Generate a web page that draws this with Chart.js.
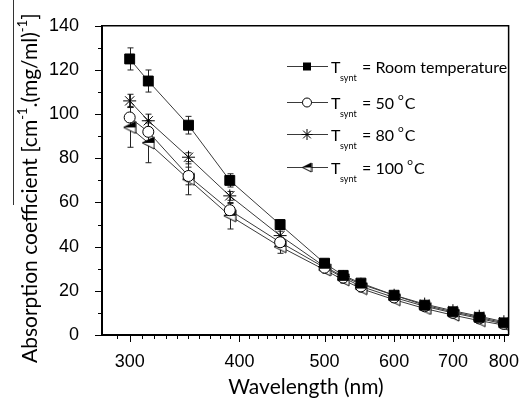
<!DOCTYPE html>
<html>
<head>
<meta charset="utf-8">
<script src="https://cdn.jsdelivr.net/npm/chart.js@4"></script>
<style>
    html, body { margin: 0; padding: 0; background: #fff; }
    canvas { display: block; }
</style>
</head>
<body>
<canvas id="chart" width="527" height="401"></canvas>
<script>
// Data
const wavelength = [300, 315, 350, 390, 445, 500, 525, 550, 600, 650, 700, 750, 800];

const roomTemp    = [125, 115, 95, 70, 50, 32.5, 27, 23.5, 18, 13.5, 10.5, 8, 5.5];
const roomTempErr = [5, 5, 4, 3, 2, 1, 1, 1, 1, 1, 1, 1, 1];

const t50    = [98.5, 92, 72, 56.5, 42, 30.5, 26, 22, 17, 13, 10, 7.5, 5];
const t50Err = [5, 5, 4, 3, 2, 1, 1, 1, 1, 1, 1, 1, 1];

const t80    = [106, 97, 80.5, 63, 45, 31, 26.5, 23, 18, 14, 11, 8.5, 6];
const t80Err = [3, 3, 2, 2, 2, 1, 1, 1, 1, 1, 1, 1, 1];

const t100    = [94, 87, 70.5, 54, 40, 29.5, 25, 21, 16, 12, 9, 6.5, 4.5];
const t100Err = [9, 9, 7, 6, 3, 1.5, 1.5, 1.5, 1, 1, 1, 1, 1];

const xTickValues = [300, 400, 500, 600, 700, 800];
const yTickStep = 20;

const legendLabels = [
    { text: "= Room temperature" },
    { text: "= 50 ", deg: true },
    { text: "= 80 ", deg: true },
    { text: "= 100 ", deg: true },
];

const TICK_FONT = "'Liberation Sans', Arial, sans-serif";
const TITLE_FONT = "Lato, 'Open Sans', sans-serif";
const LINE_COLOR = "#3a3a3a";

// left-pointing triangle, upper half filled
function makeTriangle(size) {
    const c = document.createElement("canvas");
    c.width = size;
    c.height = size;
    const g = c.getContext("2d");
    const m = 1, mid = size / 2;
    g.lineWidth = 1;
    g.strokeStyle = "#000";
    g.fillStyle = "#fff";
    g.beginPath();
    g.moveTo(m, mid);
    g.lineTo(size - m, m);
    g.lineTo(size - m, size - m);
    g.closePath();
    g.fill();
    g.fillStyle = "#000";
    g.beginPath();
    g.moveTo(m, mid);
    g.lineTo(size - m, m);
    g.lineTo(size - m, mid);
    g.closePath();
    g.fill();
    g.beginPath();
    g.moveTo(m, mid);
    g.lineTo(size - m, m);
    g.lineTo(size - m, size - m);
    g.closePath();
    g.stroke();
    return c;
}

const triPlot = makeTriangle(14);
const triLegend = makeTriangle(11);

function toPoints(values) {
    return wavelength.map((w, i) => ({ x: w, y: values[i] }));
}

const errors = [roomTempErr, t50Err, t80Err, t100Err];

const errorBarPlugin = {
    id: "errorBars",
    beforeDatasetsDraw(chart) {
        const { ctx, scales } = chart;
        ctx.save();
        ctx.strokeStyle = "#222";
        ctx.lineWidth = 1;
        chart.data.datasets.forEach((ds, i) => {
            const err = errors[i];
            ds.data.forEach((p, j) => {
                const x = Math.round(scales.x.getPixelForValue(p.x)) + 0.5;
                const yT = scales.y.getPixelForValue(p.y + err[j]);
                const yB = scales.y.getPixelForValue(p.y - err[j]);
                ctx.beginPath();
                ctx.moveTo(x, yT);
                ctx.lineTo(x, yB);
                ctx.moveTo(x - 3, yT);
                ctx.lineTo(x + 3, yT);
                ctx.moveTo(x - 3, yB);
                ctx.lineTo(x + 3, yB);
                ctx.stroke();
            });
        });
        ctx.restore();
    },
};

function drawMarker(ctx, kind, x, y) {
    ctx.save();
    ctx.strokeStyle = "#000";
    ctx.lineWidth = 1;
    if (kind === 0) {
        ctx.fillStyle = "#000";
        ctx.fillRect(x - 4, y - 4, 8, 8);
    } else if (kind === 1) {
        ctx.fillStyle = "#fff";
        ctx.beginPath();
        ctx.arc(x, y, 4.5, 0, Math.PI * 2);
        ctx.fill();
        ctx.stroke();
    } else if (kind === 2) {
        ctx.beginPath();
        for (let k = 0; k < 4; k++) {
            const a = k * Math.PI / 4;
            ctx.moveTo(x - 5.5 * Math.cos(a), y - 5.5 * Math.sin(a));
            ctx.lineTo(x + 5.5 * Math.cos(a), y + 5.5 * Math.sin(a));
        }
        ctx.stroke();
    } else {
        ctx.drawImage(triLegend, x - triLegend.width / 2, y - triLegend.height / 2);
    }
    ctx.restore();
}

const decorPlugin = {
    id: "decor",
    afterDraw(chart) {
        const { ctx, chartArea: a, scales } = chart;
        ctx.save();

        // frame top / right
        ctx.strokeStyle = "#000";
        ctx.lineWidth = 1.5;
        ctx.beginPath();
        ctx.moveTo(a.left, a.top);
        ctx.lineTo(a.right, a.top);
        ctx.lineTo(a.right, a.bottom);
        ctx.stroke();

        // tick marks, major and minor
        ctx.lineWidth = 1;
        ctx.beginPath();
        for (let v = 290; v <= 810; v += 10) {
            const x = Math.round(scales.x.getPixelForValue(v)) + 0.5;
            if (x < a.left + 2 || x > a.right) continue;
            const len = xTickValues.includes(v) ? 6 : 3;
            ctx.moveTo(x, a.bottom + 1);
            ctx.lineTo(x, a.bottom + 1 + len);
        }
        for (let v = 0; v <= 140; v += 10) {
            const y = Math.round(scales.y.getPixelForValue(v)) + 0.5;
            const len = v % yTickStep === 0 ? 6 : 3;
            ctx.moveTo(a.left - 1, y);
            ctx.lineTo(a.left - 1 - len, y);
        }
        ctx.stroke();

        // x title
        ctx.fillStyle = "#000";
        ctx.font = "21px " + TITLE_FONT;
        ctx.textAlign = "center";
        ctx.textBaseline = "alphabetic";
        ctx.fillText("Wavelength (nm)", 306, 394);

        // y title with superscripts
        ctx.save();
        ctx.translate(37, 363);
        ctx.rotate(-Math.PI / 2);
        ctx.textAlign = "left";
        const parts = [
            ["Absorption coefficient [cm", false],
            ["-1", true],
            [".(mg/ml)", false],
            ["-1", true],
            ["]", false],
        ];
        let px = 0;
        for (const [t, sup] of parts) {
            ctx.font = (sup ? "13px " : "21px ") + TITLE_FONT;
            ctx.fillText(t, px, sup ? -10 : 0);
            px += ctx.measureText(t).width;
        }
        ctx.restore();

        // stray rule next to the y title
        ctx.strokeStyle = "#333";
        ctx.lineWidth = 1;
        ctx.beginPath();
        ctx.moveTo(13.5, 0);
        ctx.lineTo(13.5, 205);
        ctx.stroke();

        // legend
        const rows = [66, 102, 134, 167];
        legendLabels.forEach((lab, i) => {
            const y = rows[i];
            ctx.strokeStyle = LINE_COLOR;
            ctx.lineWidth = 1;
            ctx.beginPath();
            ctx.moveTo(287, y + 0.5);
            ctx.lineTo(328, y + 0.5);
            ctx.stroke();
            drawMarker(ctx, i, 307, y + 0.5);

            ctx.fillStyle = "#000";
            ctx.textAlign = "left";
            ctx.textBaseline = "alphabetic";
            const base = y + 7;
            ctx.font = "16px " + TITLE_FONT;
            ctx.fillText("T", 331, base);
            ctx.font = "9px " + TITLE_FONT;
            ctx.fillText("synt", 340, base + 8);
            ctx.font = "16px " + TITLE_FONT;
            ctx.fillText(lab.text, 362, base);
            if (lab.deg) {
                let tx = 362 + ctx.measureText(lab.text).width;
                ctx.font = "10px " + TITLE_FONT;
                ctx.fillText("o", tx, base - 9);
                tx += ctx.measureText("o").width + 1;
                ctx.font = "16px " + TITLE_FONT;
                ctx.fillText("C", tx, base);
            }
        });

        ctx.restore();
    },
};

const baseDataset = {
    borderColor: LINE_COLOR,
    borderWidth: 1,
    pointBorderColor: "#000",
    pointBorderWidth: 1,
    tension: 0,
};

new Chart(document.getElementById("chart").getContext("2d"), {
    type: "line",
    data: {
        datasets: [
            {
                ...baseDataset,
                label: "Tsynt = Room temperature",
                data: toPoints(roomTemp),
                pointStyle: "rect",
                pointRadius: 7,
                pointBackgroundColor: "#000",
            },
            {
                ...baseDataset,
                label: "Tsynt = 50 °C",
                data: toPoints(t50),
                pointStyle: "circle",
                pointRadius: 5.5,
                pointBackgroundColor: "#fff",
            },
            {
                ...baseDataset,
                label: "Tsynt = 80 °C",
                data: toPoints(t80),
                pointStyle: "star",
                pointRadius: 6.5,
                pointBackgroundColor: "#000",
            },
            {
                ...baseDataset,
                label: "Tsynt = 100 °C",
                data: toPoints(t100),
                pointStyle: triPlot,
                pointRadius: 7,
            },
        ],
    },
    options: {
        responsive: false,
        animation: false,
        devicePixelRatio: 1,
        layout: { padding: { top: 25, right: 9, left: 0, bottom: 0 } },
        plugins: {
            legend: { display: false },
            tooltip: { enabled: false },
        },
        scales: {
            x: {
                type: "logarithmic",
                min: 279,
                max: 810,
                afterBuildTicks: (s) => { s.ticks = xTickValues.map((v) => ({ value: v })); },
                afterFit: (s) => { s.height = 66; },
                ticks: {
                    callback: (v) => String(v),
                    autoSkip: false,
                    maxRotation: 0,
                    padding: 8,
                    color: "#000",
                    font: { family: TICK_FONT, size: 18 },
                },
                grid: { display: false },
                border: { display: true, color: "#000", width: 2 },
            },
            y: {
                min: 0,
                max: 140,
                afterFit: (s) => { s.width = 102; },
                ticks: {
                    stepSize: yTickStep,
                    padding: 15,
                    color: "#000",
                    font: { family: TICK_FONT, size: 18 },
                },
                grid: { display: false },
                border: { display: true, color: "#000", width: 2 },
            },
        },
    },
    plugins: [errorBarPlugin, decorPlugin],
});
</script>
</body>
</html>
